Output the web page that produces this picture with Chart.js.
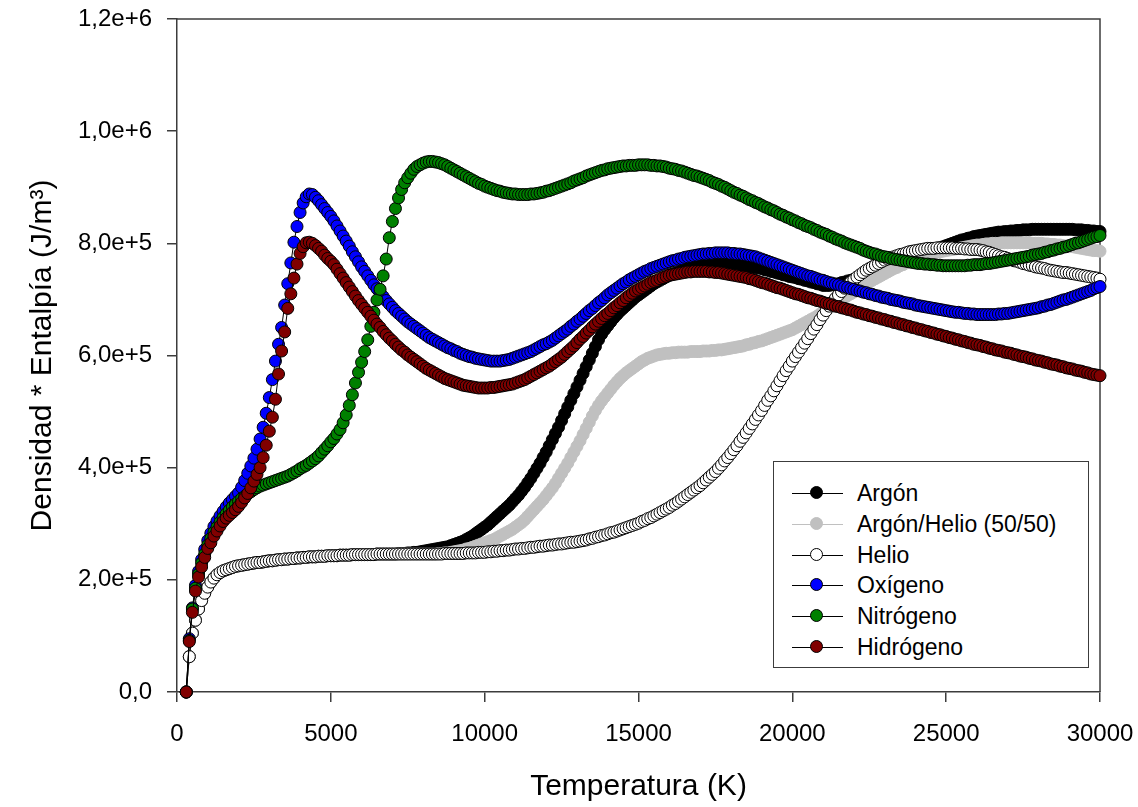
<!DOCTYPE html>
<html>
<head>
<meta charset="utf-8">
<script src="https://cdn.jsdelivr.net/npm/chart.js@4.4.1/dist/chart.umd.min.js"></script>
<style>
  html, body { margin: 0; padding: 0; background: #fff; }
  #wrap { position: relative; width: 1138px; height: 807px; }
  #graph { position: absolute; left: 0; top: 0; }
  .legend-box { position: absolute; left: 773px; top: 461px; width: 316px; height: 207px; box-sizing: border-box;
    border: 1px solid #3c3c3c; background: #fff; font-family: "Liberation Sans", Arial, sans-serif; font-size: 23px; color: #000; }
  .legend-row { position: absolute; left: 0; width: 100%; height: 30px; }
  .legend-line { position: absolute; left: 18px; top: 15px; width: 51px; height: 1px; }
  .legend-mark { position: absolute; left: 36px; top: 8px; width: 13px; height: 13px; border-radius: 50%; box-sizing: border-box; border: 1px solid #000; }
  .legend-text { position: absolute; left: 83px; top: 0; line-height: 30px; white-space: nowrap; }
</style>
</head>
<body>
<div id="wrap">
  <canvas id="graph" width="1138" height="807"></canvas>
  <div class="legend-box" id="legend"></div>
</div>
<script>
// 温度 (K) 300Kから100K刻み
const temperatures = [];
for (let t = 300; t <= 30000; t += 100) temperatures.push(t);

// 凡例ラベル
const seriesLabels = ['Argón', 'Argón/Helio (50/50)', 'Helio', 'Oxígeno', 'Nitrógeno', 'Hidrógeno'];

// 縦軸目盛り
const yTicks = [0, 200000, 400000, 600000, 800000, 1000000, 1200000];
// 横軸目盛り
const xTicks = [0, 5000, 10000, 15000, 20000, 25000, 30000];

// 密度*エンタルピー (kJ/m3)
const argon = [
  0, 63, 105, 128, 148, 163, 176,
  187, 196, 203, 209, 213, 216, 218, 220, 222, 224,
  225, 226, 227, 228, 229, 230, 231, 231, 232, 233,
  234, 234, 235, 236, 236, 237, 237, 238, 238, 239,
  239, 240, 240, 241, 241, 241, 242, 242, 242, 243,
  243, 243, 243, 244, 244, 244, 244, 245, 245, 245,
  245, 245, 245, 245, 245, 246, 246, 246, 246, 246,
  246, 246, 247, 247, 247, 248, 248, 249, 249, 250,
  251, 252, 253, 254, 255, 256, 257, 258, 259, 261,
  263, 265, 267, 269, 272, 275, 278, 282, 286, 290,
  294, 298, 303, 308, 313, 318, 323, 328, 333, 339,
  345, 351, 358, 365, 373, 381, 390, 399, 408, 418,
  428, 439, 450, 461, 472, 484, 496, 508, 520, 532,
  544, 556, 568, 580, 592, 604, 616, 628, 638, 646,
  653, 660, 667, 673, 679, 684, 689, 694, 699, 704,
  708, 712, 716, 720, 724, 728, 731, 734, 737, 740,
  743, 745, 747, 749, 751, 753, 755, 756, 758, 759,
  760, 761, 762, 763, 763, 764, 764, 764, 764, 764,
  764, 763, 763, 762, 761, 760, 759, 758, 757, 756,
  755, 753, 752, 750, 749, 747, 746, 744, 743, 741,
  740, 739, 737, 736, 734, 733, 731, 730, 728, 727,
  725, 725, 725, 726, 727, 728, 730, 731, 733, 734,
  736, 737, 739, 741, 743, 745, 747, 749, 751, 753,
  755, 757, 759, 761, 763, 765, 767, 769, 771, 773,
  775, 777, 779, 781, 783, 786, 788, 790, 792, 794,
  796, 798, 800, 802, 804, 806, 807, 809, 810, 812,
  813, 814, 815, 816, 817, 818, 819, 820, 820, 821,
  821, 822, 822, 823, 823, 824, 824, 824, 825, 825,
  825, 825, 825, 825, 825, 825, 825, 825, 825, 825,
  825, 825, 824, 824, 824, 823, 823, 822, 822, 821,
  821
];

const argonHelio = [
  0, 63, 105, 128, 148, 163, 176,
  187, 196, 203, 209, 213, 216, 218, 220, 222, 224,
  225, 226, 227, 228, 229, 230, 231, 231, 232, 233,
  234, 234, 235, 236, 236, 237, 237, 238, 238, 239,
  239, 240, 240, 241, 241, 241, 242, 242, 242, 243,
  243, 243, 243, 244, 244, 244, 244, 245, 245, 245,
  245, 245, 245, 245, 245, 246, 246, 246, 246, 246,
  246, 246, 246, 246, 246, 246, 246, 246, 246, 246,
  246, 246, 246, 246, 246, 247, 247, 248, 248, 249,
  250, 251, 252, 253, 255, 256, 258, 260, 262, 264,
  266, 268, 270, 272, 275, 278, 281, 284, 287, 290,
  294, 298, 302, 307, 313, 319, 325, 331, 337, 343,
  350, 357, 364, 372, 381, 390, 399, 408, 418, 428,
  438, 448, 459, 470, 481, 492, 502, 511, 519, 526,
  533, 540, 547, 553, 559, 564, 569, 573, 577, 581,
  585, 589, 592, 595, 597, 599, 601, 602, 603, 604,
  604, 605, 605, 606, 606, 606, 606, 607, 607, 607,
  607, 608, 608, 608, 609, 609, 610, 610, 611, 612,
  613, 614, 615, 616, 617, 619, 620, 622, 623, 625,
  626, 628, 630, 632, 634, 636, 638, 640, 642, 644,
  646, 649, 652, 655, 658, 661, 664, 667, 670, 674,
  678, 681, 685, 689, 692, 696, 700, 703, 707, 710,
  713, 717, 720, 724, 727, 731, 734, 737, 740, 743,
  746, 749, 752, 755, 757, 760, 762, 765, 767, 769,
  771, 773, 775, 777, 779, 781, 782, 784, 785, 786,
  787, 788, 789, 790, 791, 792, 793, 794, 795, 796,
  797, 797, 798, 799, 799, 800, 800, 800, 801, 801,
  801, 801, 801, 801, 801, 801, 801, 801, 800, 800,
  800, 800, 799, 799, 798, 798, 797, 797, 796, 795,
  794, 794, 793, 792, 791, 790, 789, 788, 787, 787,
  786
];

const helio = [
  0, 63, 105, 128, 148, 163, 176,
  187, 196, 203, 209, 213, 216, 218, 220, 222, 224,
  225, 226, 227, 228, 229, 230, 231, 231, 232, 233,
  234, 234, 235, 236, 236, 237, 237, 238, 238, 239,
  239, 240, 240, 241, 241, 241, 242, 242, 242, 243,
  243, 243, 243, 244, 244, 244, 244, 245, 245, 245,
  245, 245, 245, 245, 245, 246, 246, 246, 246, 246,
  246, 246, 246, 246, 246, 246, 246, 246, 246, 246,
  246, 246, 246, 246, 246, 246, 246, 247, 247, 247,
  247, 247, 247, 247, 248, 248, 248, 248, 249, 249,
  249, 250, 250, 251, 251, 252, 252, 253, 253, 254,
  255, 255, 256, 256, 257, 258, 258, 259, 260, 260,
  261, 262, 262, 263, 264, 264, 265, 266, 267, 267,
  268, 269, 270, 271, 273, 274, 276, 277, 279, 280,
  282, 284, 285, 287, 289, 291, 293, 295, 297, 299,
  301, 304, 306, 309, 311, 314, 317, 320, 323, 326,
  329, 333, 336, 340, 344, 348, 352, 356, 360, 364,
  368, 373, 378, 383, 388, 393, 399, 405, 412, 418,
  425, 432, 439, 447, 454, 462, 470, 478, 486, 494,
  502, 511, 520, 528, 537, 546, 555, 564, 573, 581,
  590, 598, 606, 614, 622, 630, 639, 647, 655, 664,
  672, 680, 688, 695, 702, 708, 714, 720, 726, 731,
  735, 740, 744, 748, 752, 755, 758, 761, 764, 767,
  770, 772, 774, 776, 778, 780, 781, 783, 785, 786,
  787, 788, 789, 790, 791, 791, 791, 792, 792, 792,
  792, 792, 792, 791, 791, 791, 790, 790, 789, 789,
  789, 788, 787, 785, 784, 782, 780, 778, 776, 775,
  773, 771, 769, 768, 766, 764, 763, 761, 760, 758,
  757, 756, 755, 753, 752, 751, 750, 749, 748, 748,
  747, 746, 745, 744, 743, 742, 741, 740, 739, 738,
  736
];

const oxigeno = [
  0, 95, 150, 190, 215, 236, 254,
  270, 283, 295, 305, 314, 322, 330, 337, 343, 349,
  355, 365, 377, 390, 403, 417, 433, 451, 472, 497,
  525, 557, 590, 620, 650, 690, 728, 765, 802, 830,
  855, 872, 883, 888, 887, 882, 876, 869, 862, 855,
  848, 840, 831, 822, 813, 804, 795, 785, 776, 767,
  758, 750, 742, 734, 726, 719, 712, 705, 698, 692,
  686, 680, 675, 670, 665, 660, 656, 652, 648, 644,
  640, 636, 632, 629, 626, 623, 620, 617, 614, 612,
  609, 607, 604, 602, 600, 598, 597, 595, 594, 593,
  592, 591, 590, 590, 590, 590, 591, 592, 593, 595,
  597, 599, 601, 603, 605, 607, 610, 613, 616, 619,
  621, 624, 627, 631, 635, 639, 643, 647, 652, 656,
  661, 665, 670, 675, 680, 684, 689, 694, 698, 703,
  708, 712, 716, 720, 724, 728, 731, 735, 738, 741,
  744, 747, 750, 752, 755, 757, 759, 761, 763, 765,
  767, 769, 770, 772, 773, 775, 776, 777, 778, 779,
  780, 781, 781, 782, 782, 783, 783, 783, 783, 783,
  782, 782, 781, 781, 780, 779, 778, 777, 776, 774,
  772, 770, 768, 766, 764, 762, 760, 758, 756, 754,
  752, 750, 748, 746, 744, 742, 741, 739, 737, 735,
  734, 732, 730, 729, 727, 726, 724, 722, 721, 719,
  718, 716, 715, 713, 712, 710, 709, 707, 706, 704,
  703, 702, 700, 699, 698, 697, 695, 694, 693, 692,
  690, 689, 688, 687, 686, 685, 684, 683, 682, 681,
  680, 679, 678, 677, 677, 676, 675, 675, 674, 674,
  673, 673, 673, 673, 673, 673, 673, 674, 674, 675,
  675, 676, 677, 678, 679, 680, 681, 682, 683, 684,
  685, 687, 688, 690, 691, 693, 695, 697, 699, 700,
  702, 704, 706, 708, 710, 712, 714, 716, 719, 721,
  723
];

const nitrogeno = [
  0, 92, 148, 185, 210, 230, 246,
  262, 274, 285, 294, 303, 311, 318, 324, 330, 335,
  340, 345, 349, 353, 357, 361, 364, 367, 369, 371,
  373, 375, 377, 379, 381, 383, 385, 388, 391, 394,
  398, 401, 404, 408, 412, 416, 421, 427, 433, 439,
  446, 452, 460, 468, 480, 494, 511, 530, 551, 570,
  588, 607, 628, 652, 677, 699, 718, 742, 772, 810,
  839, 862, 881, 896, 908, 917, 925, 932, 937, 940,
  943, 945, 946, 946, 945, 944, 942, 940, 937, 934,
  931, 928, 925, 922, 919, 916, 913, 910, 907, 905,
  902, 900, 898, 896, 894, 893, 891, 890, 889, 888,
  888, 887, 887, 887, 887, 888, 888, 889, 890, 891,
  893, 894, 896, 898, 900, 902, 904, 906, 908, 911,
  913, 915, 917, 920, 922, 924, 926, 928, 930, 931,
  933, 934, 935, 936, 937, 938, 938, 939, 939, 939,
  940, 940, 940, 940, 939, 939, 938, 938, 937, 936,
  934, 933, 932, 930, 929, 927, 925, 923, 921, 920,
  918, 916, 914, 912, 909, 907, 905, 902, 900, 897,
  894, 891, 889, 886, 884, 881, 878, 876, 873, 871,
  868, 865, 863, 860, 858, 855, 852, 850, 847, 845,
  842, 840, 837, 835, 832, 830, 828, 825, 823, 820,
  818, 816, 813, 811, 808, 806, 804, 801, 799, 797,
  795, 793, 791, 788, 786, 784, 782, 781, 779, 777,
  776, 775, 773, 772, 771, 770, 769, 768, 767, 766,
  765, 764, 764, 763, 763, 762, 762, 761, 761, 760,
  760, 760, 760, 760, 760, 760, 760, 761, 761, 762,
  762, 762, 763, 764, 764, 765, 766, 767, 768, 769,
  770, 771, 772, 773, 774, 775, 776, 777, 779, 780,
  781, 782, 784, 785, 787, 788, 790, 791, 793, 794,
  796, 798, 800, 801, 803, 805, 807, 809, 811, 812,
  814
];

const hidrogeno = [
  0, 90, 142, 180, 205, 223, 240,
  256, 266, 278, 287, 296, 304, 310, 315, 320, 325,
  331, 338, 346, 354, 364, 376, 388, 400, 418, 440,
  465, 490, 522, 567, 608, 642, 684, 710, 738, 763,
  782, 794, 801, 802, 800, 796, 791, 786, 779, 773,
  768, 762, 754, 746, 738, 730, 722, 714, 706, 698,
  691, 684, 677, 670, 663, 656, 650, 643, 637, 631,
  626, 620, 615, 610, 606, 601, 597, 593, 589, 585,
  581, 577, 574, 571, 568, 565, 562, 559, 557, 555,
  553, 551, 549, 547, 546, 545, 544, 543, 542, 542,
  542, 542, 543, 543, 544, 545, 546, 547, 548, 549,
  551, 553, 555, 557, 560, 563, 566, 569, 572, 575,
  578, 581, 585, 589, 593, 597, 602, 607, 612, 617,
  623, 629, 634, 640, 645, 651, 656, 661, 666, 671,
  675, 680, 685, 689, 694, 698, 703, 707, 711, 715,
  718, 721, 724, 727, 730, 732, 734, 737, 739, 741,
  743, 744, 745, 746, 747, 748, 749, 749, 750, 750,
  750, 750, 750, 749, 749, 748, 748, 747, 746, 745,
  744, 743, 742, 741, 740, 739, 737, 736, 734, 732,
  730, 729, 727, 725, 723, 721, 720, 718, 716, 714,
  712, 710, 709, 707, 705, 703, 702, 700, 698, 697,
  695, 693, 692, 690, 688, 687, 685, 684, 682, 681,
  679, 677, 676, 674, 673, 671, 670, 668, 667, 665,
  664, 662, 661, 659, 658, 656, 655, 653, 652, 650,
  649, 647, 646, 644, 643, 641, 640, 638, 637, 635,
  634, 632, 631, 629, 628, 626, 625, 623, 622, 620,
  619, 618, 616, 615, 613, 612, 610, 609, 608, 606,
  605, 604, 602, 601, 599, 598, 597, 595, 594, 592,
  591, 590, 588, 587, 585, 584, 583, 581, 580, 578,
  577, 576, 574, 573, 572, 570, 569, 567, 566, 565,
  564
];

// 系列ごとの色 (点の塗り, 点の枠, 線)
const seriesStyles = [
  { fill: '#000000', border: '#000000', line: '#000000' },
  { fill: '#c0c0c0', border: '#c0c0c0', line: '#c0c0c0' },
  { fill: '#ffffff', border: '#000000', line: '#000000' },
  { fill: '#0000ff', border: '#000000', line: '#000000' },
  { fill: '#008000', border: '#000000', line: '#000000' },
  { fill: '#800000', border: '#000000', line: '#000000' }
];

const seriesValues = [argon, argonHelio, helio, oxigeno, nitrogeno, hidrogeno];

const FONT = '"Liberation Sans", Arial, sans-serif';
const AXIS_COLOR = '#3c3c3c';

/*
  データセット作成
*/
function makeDataset(index) {
  const style = seriesStyles[index];
  return {
    label: seriesLabels[index],
    // kJ/m3 → J/m3
    data: seriesValues[index].map((v, i) => ({ x: temperatures[i], y: v * 1000 })),
    showLine: true,
    borderColor: style.line,
    borderWidth: 1,
    pointRadius: 6,
    pointBackgroundColor: style.fill,
    pointBorderColor: style.border,
    pointBorderWidth: 1,
    clip: false,
    // 後の系列を上に描く
    order: seriesValues.length - index
  };
}

/*
  枠線(上と右)
*/
const framePlugin = {
  id: 'frame',
  beforeDatasetsDraw(chart) {
    const ctx = chart.ctx;
    const a = chart.chartArea;
    ctx.save();
    ctx.strokeStyle = AXIS_COLOR;
    ctx.lineWidth = 1.5;
    ctx.beginPath();
    ctx.moveTo(a.left, a.top);
    ctx.lineTo(a.right, a.top);
    ctx.lineTo(a.right, a.bottom);
    ctx.stroke();
    ctx.restore();
  }
};

/*
  縦軸ラベル書式
*/
function formatY(value) {
  if (value === 0) return '0,0';
  return value.toExponential(1).replace('.', ',');
}

/*
  グラフ描画
*/
function drawGraph() {
  const datasets = seriesValues.map((v, i) => makeDataset(i));
  new Chart(document.getElementById('graph'), {
    type: 'scatter',
    data: { datasets: datasets },
    plugins: [framePlugin],
    options: {
      responsive: false,
      animation: false,
      events: [],
      layout: { padding: { top: 19, right: 38, left: 0, bottom: 0 } },
      plugins: { legend: { display: false }, tooltip: { enabled: false } },
      scales: {
        x: {
          type: 'linear',
          min: 0,
          max: 30000,
          // 高さ固定、ラベルのはみ出し余白は無視
          afterFit: (scale) => {
            scale.height = 115;
            scale.paddingLeft = 0;
            scale.paddingRight = 0;
          },
          afterBuildTicks: (scale) => { scale.ticks = xTicks.map(v => ({ value: v })); },
          ticks: {
            callback: (value) => String(value),
            font: { family: FONT, size: 24 },
            color: '#000',
            padding: 18,
            maxRotation: 0
          },
          grid: { drawOnChartArea: false, drawTicks: true, tickLength: 10, color: AXIS_COLOR, lineWidth: 1.5 },
          border: { display: true, color: AXIS_COLOR, width: 1.5 },
          title: {
            display: true,
            text: 'Temperatura (K)',
            font: { family: FONT, size: 30 },
            color: '#000',
            padding: { top: 0, bottom: 2 }
          }
        },
        y: {
          type: 'linear',
          min: 0,
          max: 1200000,
          // 幅固定、ラベルのはみ出し余白は無視
          afterFit: (scale) => {
            scale.width = 177;
            scale.paddingTop = 0;
            scale.paddingBottom = 0;
          },
          afterBuildTicks: (scale) => { scale.ticks = yTicks.map(v => ({ value: v })); },
          ticks: {
            callback: (value) => formatY(value),
            font: { family: FONT, size: 24 },
            color: '#000',
            padding: 15
          },
          grid: { drawOnChartArea: false, drawTicks: true, tickLength: 10, color: AXIS_COLOR, lineWidth: 1.5 },
          border: { display: true, color: AXIS_COLOR, width: 1.5 },
          title: {
            display: true,
            text: 'Densidad * Entalpía (J/m³)',
            font: { family: FONT, size: 30 },
            color: '#000',
            padding: { top: 25, bottom: 0 }
          }
        }
      }
    }
  });
}

/*
  凡例作成
*/
function buildLegend() {
  const box = document.getElementById('legend');
  seriesLabels.forEach((label, i) => {
    const style = seriesStyles[i];
    const row = document.createElement('div');
    row.className = 'legend-row';
    row.style.top = (16 + i * 30.8) + 'px';

    const line = document.createElement('div');
    line.className = 'legend-line';
    line.style.background = style.line;
    row.appendChild(line);

    const mark = document.createElement('div');
    mark.className = 'legend-mark';
    mark.style.background = style.fill;
    mark.style.borderColor = style.border;
    row.appendChild(mark);

    const text = document.createElement('span');
    text.className = 'legend-text';
    text.textContent = label;
    row.appendChild(text);

    box.appendChild(row);
  });
}

drawGraph();
buildLegend();
</script>
</body>
</html>
